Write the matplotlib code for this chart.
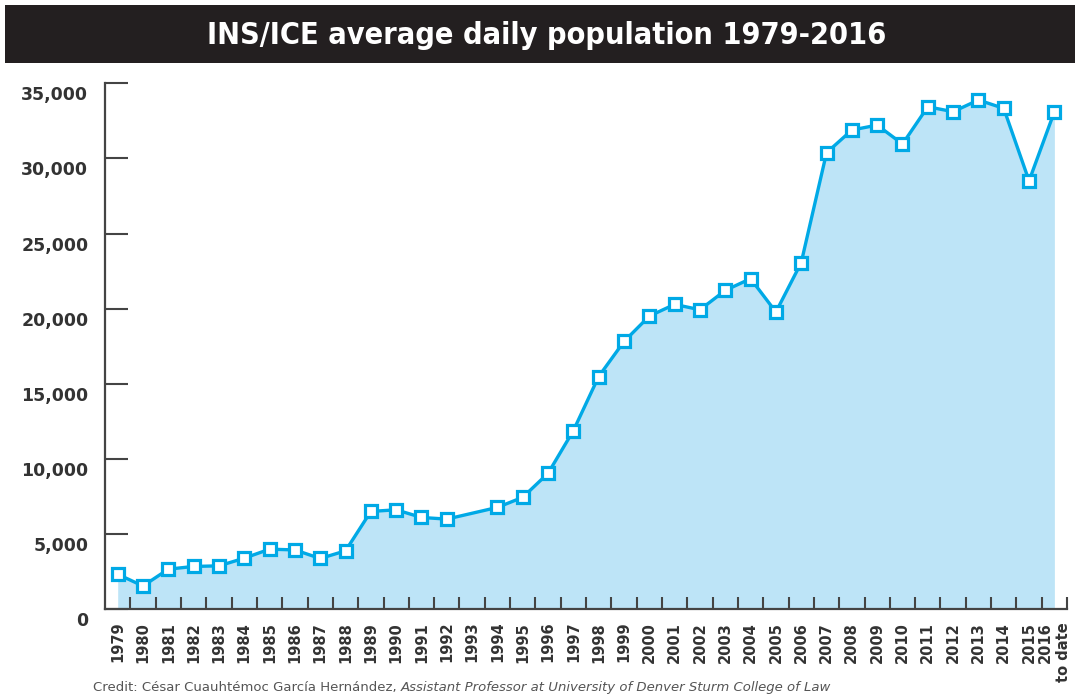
"""
INS/ICE average daily population 1979-2016
Линейный график с заливкой под линией и квадратными маркерами
"""
import matplotlib
matplotlib.use('Agg')
import matplotlib.pyplot as plt
import matplotlib.patches as patches
import matplotlib.transforms as transforms

# Годы с данными (за 1993 год значения нет)
years = [1979, 1980, 1981, 1982, 1983, 1984, 1985, 1986, 1987, 1988,
         1989, 1990, 1991, 1992, 1994, 1995, 1996, 1997, 1998, 1999,
         2000, 2001, 2002, 2003, 2004, 2005, 2006, 2007, 2008, 2009,
         2010, 2011, 2012, 2013, 2014, 2015, 2016]
population = [2330, 1550, 2670, 2850, 2890, 3400, 4000, 3950, 3380, 3890,
              6510, 6620, 6110, 6000, 6780, 7450, 9050, 11890, 15490, 17820,
              19510, 20290, 19930, 21220, 22000, 19780, 23070, 30380, 31890, 32220,
              30960, 33440, 33110, 33890, 33330, 28510, 33110]

# Подписи оси x - все годы, включая 1993
tick_years = list(range(1979, 2017))
tick_labels = [str(y) for y in tick_years]
tick_labels[-1] = '2016\nto date'

y_ticks = [0, 5000, 10000, 15000, 20000, 25000, 30000, 35000]
y_labels = ['0', '5,000', '10,000', '15,000', '20,000', '25,000', '30,000', '35,000']

title = 'INS/ICE average daily population 1979-2016'
credit_plain = 'Credit: César Cuauhtémoc García Hernández, '
credit_italic = 'Assistant Professor at University of Denver Sturm College of Law'

line_color = '#00a9e6'
fill_color = '#bde4f7'
axis_color = '#444444'

fig = plt.figure(figsize=(10.75, 6.96), dpi=100)
ax = fig.add_axes([0.0977, 0.1246, 0.8949, 0.7557])

# Черная плашка с заголовком
band = patches.Rectangle((5 / 1075, 1 - 63 / 696), 1, 58 / 696, transform=fig.transFigure,
                         facecolor='#231f20', edgecolor='none')
fig.patches.append(band)
fig.text(0.509, 1 - 35 / 696, title, color='white', fontsize=22, fontweight='bold',
         fontstretch='condensed', family='DejaVu Sans', ha='center', va='center')

# Заливка и линия
ax.fill_between(years, population, 0, color=fill_color, linewidth=0, zorder=1)
ax.plot(years, population, color=line_color, linewidth=2.4, marker='s', markersize=8.5,
        markerfacecolor='white', markeredgecolor=line_color, markeredgewidth=2.3, zorder=3)

ax.set_xlim(1978.5, 2016.5)
ax.set_ylim(0, 35000)

# Оси
for side in ['top', 'right']:
    ax.spines[side].set_visible(False)
for side in ['left', 'bottom']:
    ax.spines[side].set_color(axis_color)
    ax.spines[side].set_linewidth(1.6)
    ax.spines[side].set_zorder(4)

ax.set_yticks(y_ticks)
ax.set_yticklabels(y_labels)
ax.tick_params(axis='y', direction='in', length=16.5, width=1.5, color=axis_color,
               pad=12, labelsize=12.5, labelcolor='#333333')
for label in ax.get_yticklabels():
    label.set_fontweight('bold')
    # подписи по y чуть ниже засечек, как в оригинале
    label.set_transform(label.get_transform() +
                        transforms.ScaledTranslation(0, -0.1, fig.dpi_scale_trans))

ax.set_xticks(tick_years)
ax.set_xticklabels(tick_labels, rotation=90)
ax.set_xticks([y + 0.5 for y in tick_years], minor=True)
ax.tick_params(axis='x', which='major', length=0, pad=9, labelsize=10.5, labelcolor='#333333')
ax.tick_params(axis='x', which='minor', direction='in', length=8.6, width=1.5, color=axis_color)
for label in ax.get_xticklabels():
    label.set_fontweight('semibold')
    label.set_multialignment('right')
    label.set_verticalalignment('top')

# Подпись с автором
t1 = fig.text(93 / 1075, 1 - 687 / 696, credit_plain, color='#555555', fontsize=9.5,
              va='center', ha='left')
ax.annotate(credit_italic, xy=(1, 0), xycoords=t1, ha='left', va='bottom',
            color='#555555', fontsize=9.5, style='italic', annotation_clip=False)

fig.savefig('out.png', dpi=100)
